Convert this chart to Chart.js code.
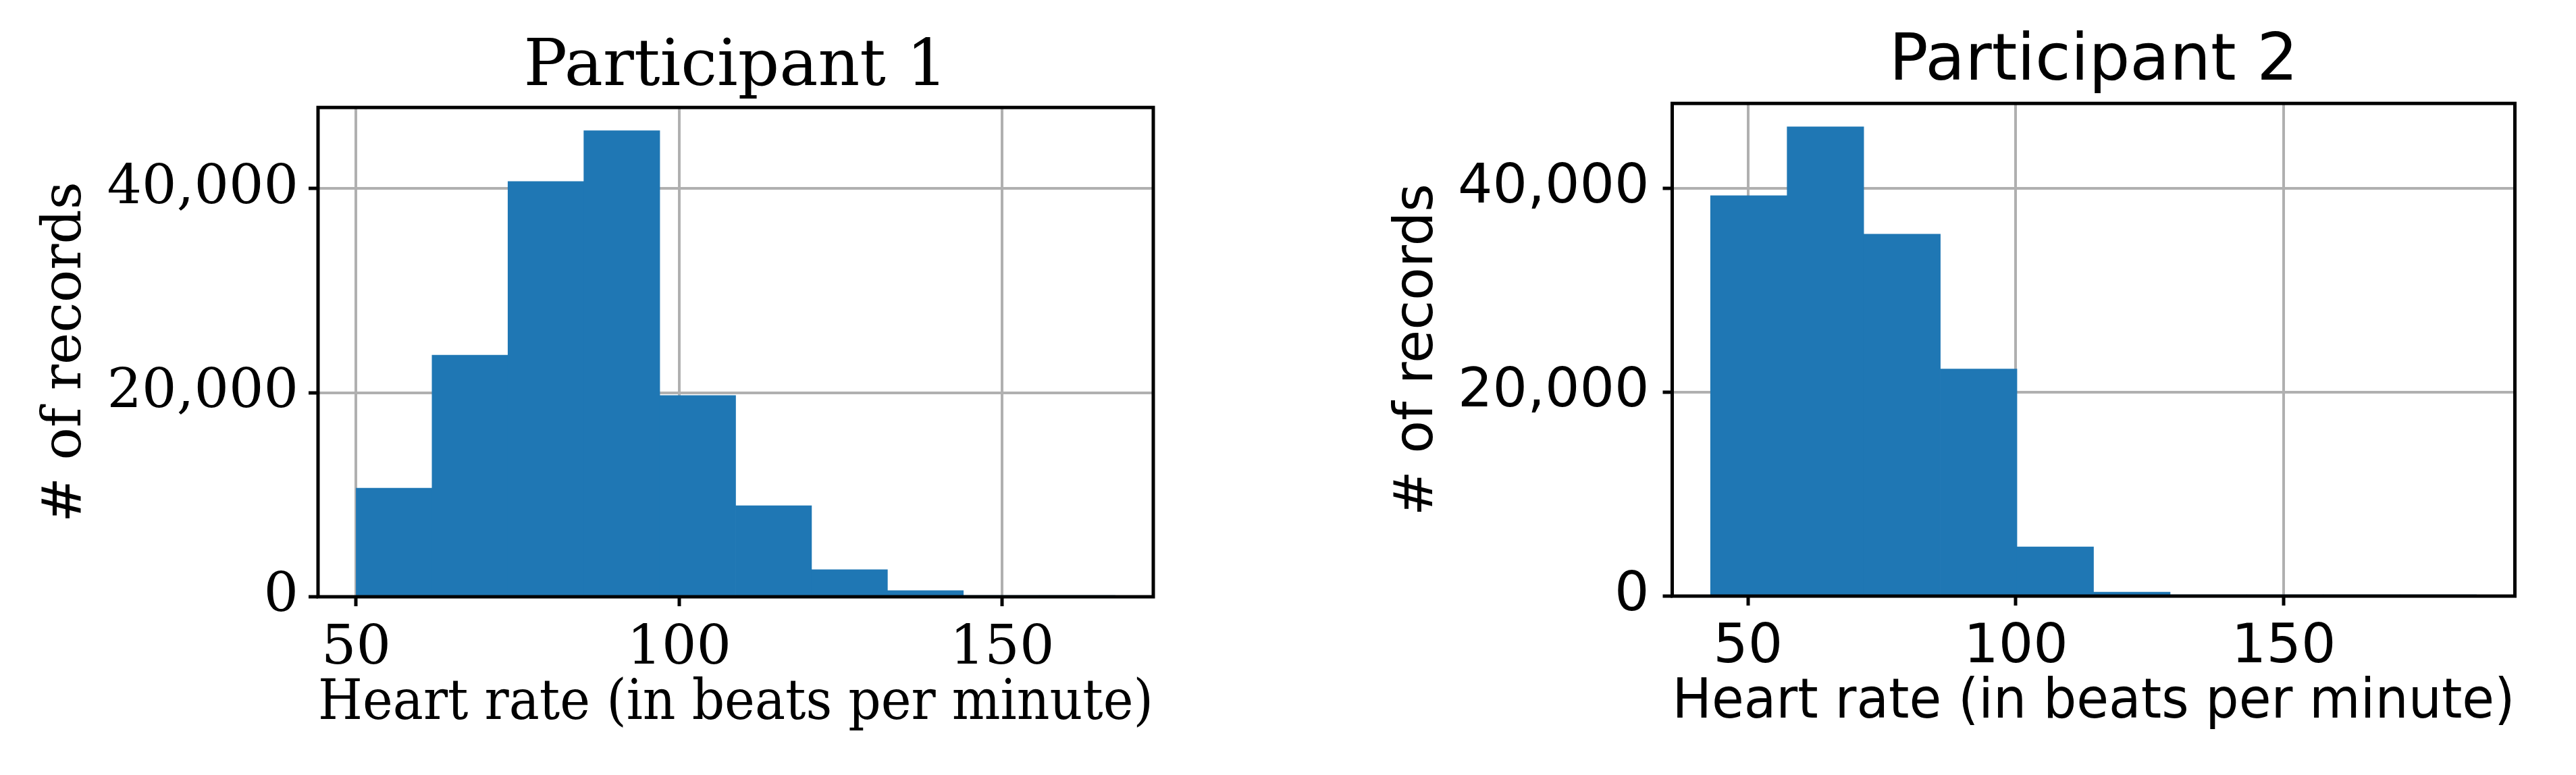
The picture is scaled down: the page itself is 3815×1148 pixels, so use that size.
<!DOCTYPE html>
<html>
<head>
<meta charset="utf-8">
<script src="https://cdn.jsdelivr.net/npm/chart.js@4.4.0/dist/chart.umd.min.js"></script>
<style>
  html, body { margin: 0; padding: 0; background: #fff; }
  body { width: 3815px; height: 1148px; position: relative; overflow: hidden; }
  canvas { position: absolute; top: 0; }
  #p1 { left: 0; }
  #p2 { left: 2000px; }
</style>
</head>
<body>
<canvas id="p1" width="1800" height="1148"></canvas>
<canvas id="p2" width="1815" height="1148"></canvas>
<script>
// participant 1 - histogram bin edges + counts
const edges1 = [50, 61.75, 73.5, 85.25, 97, 108.75, 120.5, 132.25, 144, 155.75, 167.5];
const counts1 = [10640, 23680, 40700, 45680, 19730, 8920, 2650, 600, 40, 10];

// participant 2
const edges2 = [43, 57.3, 71.6, 85.9, 100.2, 114.5, 128.8, 143.1, 157.4, 171.7, 186];
const counts2 = [39260, 46000, 35480, 22260, 4830, 400, 30, 10, 5, 2];

const xTicks = [50, 100, 150];
const yTicks = [0, 20000, 40000];

const xLabel = "Heart rate (in beats per minute)";
const yLabel = "# of records";

// box around the plot area (matplotlib style)
const frame = {
  id: "frame",
  afterDraw(chart) {
    const a = chart.chartArea;
    const ctx = chart.ctx;
    ctx.save();
    ctx.strokeStyle = "#000";
    ctx.lineWidth = 5;
    ctx.strokeRect(a.left, a.top, a.right - a.left, a.bottom - a.top);
    ctx.restore();
  }
};

function histChart(id, edges, counts, o) {
  const pts = counts.map((c, i) => ({ x: (edges[i] + edges[i + 1]) / 2, y: c }));
  const grid = { color: "#b0b0b0", lineWidth: 4, tickColor: "#000", tickWidth: 5, tickLength: 14, offset: false };

  return new Chart(document.getElementById(id), {
    type: "bar",
    data: {
      datasets: [{
        data: pts,
        backgroundColor: "#1f77b4",
        borderWidth: 0,
        barPercentage: 1,
        categoryPercentage: 1
      }]
    },
    options: {
      responsive: false,
      animation: false,
      layout: { padding: { left: 0, right: o.padRight, top: 0, bottom: 0 } },
      plugins: {
        legend: { display: false },
        tooltip: { enabled: false },
        title: {
          display: true,
          fullSize: false,
          text: o.title,
          color: "#000",
          font: { family: o.font, size: 96, weight: "normal" },
          padding: o.titlePad
        }
      },
      scales: {
        x: {
          type: "linear",
          min: o.xMin,
          max: o.xMax,
          offset: false,
          z: 1,
          afterBuildTicks: s => { s.ticks = xTicks.map(v => ({ value: v })); },
          afterFit: s => { s.height = 1148 - o.bottom; },
          grid: grid,
          border: { display: false },
          ticks: { color: "#000", font: { family: o.font, size: 81 }, padding: o.xTickPad, maxRotation: 0, callback: v => String(v) },
          title: { display: true, text: xLabel, color: "#000", font: { family: o.font, size: o.xTitleSize }, padding: { top: 0, bottom: o.xTitlePad } }
        },
        y: {
          min: 0,
          max: o.yMax,
          z: 1,
          afterBuildTicks: s => { s.ticks = yTicks.map(v => ({ value: v })); },
          afterFit: s => { s.width = o.yWidth; },
          grid: grid,
          border: { display: false },
          ticks: { color: "#000", font: { family: o.font, size: 81 }, padding: o.yTickPad, callback: v => v.toLocaleString("en-US") },
          title: { display: true, text: yLabel, color: "#000", font: { family: o.font, size: 80 }, padding: { top: o.yTitlePad, bottom: 0 } }
        }
      }
    },
    plugins: [frame]
  });
}

histChart("p1", edges1, counts1, {
  title: "Participant 1",
  font: "'DejaVu Serif', serif",
  xMin: 44.1, xMax: 173.4, yMax: 47960,
  padRight: 92, bottom: 884, yWidth: 471,
  titlePad: { top: 43, bottom: 1 },
  xTickPad: 15, xTitleSize: 83, xTitlePad: 55, yTickPad: 15, yTitlePad: 50
});

histChart("p2", edges2, counts2, {
  title: "Participant 2",
  font: "'DejaVu Sans', sans-serif",
  xMin: 35.85, xMax: 193.15, yMax: 48300,
  padRight: 90.5, bottom: 883, yWidth: 476.5,
  titlePad: { top: 35, bottom: 3 },
  xTickPad: 14, xTitleSize: 82, xTitlePad: 57, yTickPad: 20, yTitlePad: 52
});
</script>
</body>
</html>
